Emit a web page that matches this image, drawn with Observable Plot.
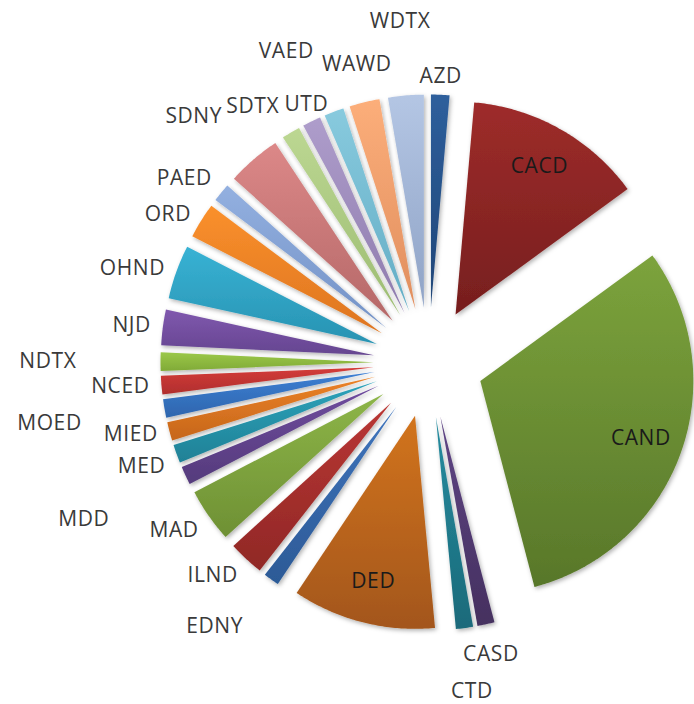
<!DOCTYPE html>
<html><head><meta charset="utf-8">
<script src="https://cdn.jsdelivr.net/npm/d3@7"></script>
<script src="https://cdn.jsdelivr.net/npm/@observablehq/plot@0.6"></script>
<style>body{margin:0;background:#fff;} svg{display:block}</style>
</head><body><div id="chart"></div>
<script>
// ---- data ----
const districts = ["AZD","CACD","CAND","CASD","CTD","DED","EDNY","ILND","MAD","MDD","MED","MIED","MOED","NCED","NDTX","NJD","OHND","ORD","PAED","SDNY","SDTX","UTD","VAED","WAWD","WDTX"];
const shares    = [1.4, 13.6, 31.0, 1.3, 1.3, 10.9, 1.2, 2.7, 4.1, 1.4, 1.4, 1.4, 1.4, 1.4, 1.4, 2.7, 4.1, 2.7, 1.4, 4.1, 1.4, 1.4, 1.5, 2.3, 2.7];
const topColors    = ["#2E5F9C","#9E2C2A","#7CA33C","#5F4585","#268C9F","#D2741F","#3F74BC","#BA3634","#8DB548","#6F4C9E","#2DA2BA","#EB8227","#3D7FD3","#D43C3A","#9BC849","#8058AE","#38B2D4","#FA902C","#93B0E0","#DC8888","#BCD792","#AE9DCB","#88CADE","#FCAE7A","#B4C6E4"];
const bottomColors = ["#1F4576","#761E1E","#58772A","#45305F","#1A6A7A","#A3561A","#2C5A96","#902826","#6E9034","#553B7C","#1F8196","#C6661B","#2E66AE","#B02E2D","#80AA37","#654590","#2893B2","#DE7520","#7392C6","#B56868","#9CBC72","#8E7BAD","#63ADC5","#E08E5E","#8FA3C6"];
// Excel "best fit" staggering of outside labels (rings outward from the pie)
const labelTier = {WDTX:1.55, WAWD:0.55, VAED:1.25, SDTX:0.3, SDNY:1, EDNY:1, CASD:0.3, CTD:1.2, NDTX:2, MOED:2, MDD:2};
const labelAlign = {VAED: "end"};

// ---- layout ----
const W = 694, H = 704, CX = 428, CY = 362, R = 213, EXPLODE = 55;
const RING0 = 280, RING_STEP = 36, INSIDE = EXPLODE + 0.8 * R;

const rows = districts.map((name, i) => ({name, share: shares[i], i}));
const arcs = d3.pie().sort(null).value(d => d.share)(rows);

const polar = (r, a) => [r * Math.sin(a), -r * Math.cos(a)];

const slicePts = [];
const labels = [];
for (const a of arcs) {
  const mid = (a.startAngle + a.endAngle) / 2;
  const [vx, vy] = polar(EXPLODE, mid);
  const name = a.data.name;
  slicePts.push({name, x: vx, y: vy});
  const n = Math.max(2, Math.ceil((a.endAngle - a.startAngle) / 0.01));
  for (let k = 0; k <= n; k++) {
    const t = a.startAngle + (a.endAngle - a.startAngle) * k / n;
    const [px, py] = polar(R, t);
    slicePts.push({name, x: vx + px, y: vy + py});
  }
  slicePts.push({name, x: vx, y: vy});

  const inside = a.data.share > 10;
  const r = inside ? INSIDE : RING0 + (labelTier[name] || 0) * RING_STEP;
  const [lx, ly] = polar(r, mid);
  const s = Math.sin(mid), c = Math.cos(mid);
  labels.push({
    name, x: lx, y: ly, inside,
    ta: inside ? "middle" : (labelAlign[name] || (s < -0.45 ? "end" : s > 0.45 ? "start" : "middle")),
    la: inside ? "middle" : (c > 0.55 ? "bottom" : c < -0.3 ? "top" : "middle")
  });
}

const groups = d3.groups(labels, d => d.ta + "|" + d.la + "|" + d.inside);
const textMarks = groups.map(([key, items]) => {
  const [ta, la, ins] = key.split("|");
  return Plot.text(items, {
    x: "x", y: "y", text: "name",
    textAnchor: ta, lineAnchor: la,
    fontSize: 21,
    fill: ins === "true" ? "#1a1a1a" : "#3a3a3a"
  });
});

const plot = Plot.plot({
  width: W, height: H, margin: 0,
  style: {fontFamily: "'Open Sans', sans-serif", background: "white", letterSpacing: "0.6px"},
  x: {domain: [-CX, W - CX], range: [0, W], axis: null},
  y: {domain: [-CY, H - CY], range: [0, H], axis: null},
  color: {domain: districts, range: districts.map((d, i) => `url(#grad-${i})`)},
  marks: [
    Plot.line(slicePts, {x: "x", y: "y", z: "name", fill: "name", stroke: "none", curve: "linear"}),
    ...textMarks
  ]
});

const svg = d3.select(plot);
const defs = svg.insert("defs", ":first-child");
districts.forEach((d, i) => {
  const g = defs.append("linearGradient").attr("id", `grad-${i}`)
    .attr("x1", 0).attr("y1", 0).attr("x2", 0).attr("y2", 1);
  g.append("stop").attr("offset", "0%").attr("stop-color", topColors[i]);
  g.append("stop").attr("offset", "100%").attr("stop-color", bottomColors[i]);
});
const f = defs.append("filter").attr("id", "shadow")
  .attr("x", "-20%").attr("y", "-20%").attr("width", "140%").attr("height", "140%");
f.append("feDropShadow").attr("dx", 1.5).attr("dy", 2).attr("stdDeviation", 2)
  .attr("flood-color", "#000").attr("flood-opacity", 0.3);
svg.selectAll('g[aria-label="line"]').attr("filter", "url(#shadow)");

document.getElementById("chart").appendChild(plot);
</script>
</body></html>
